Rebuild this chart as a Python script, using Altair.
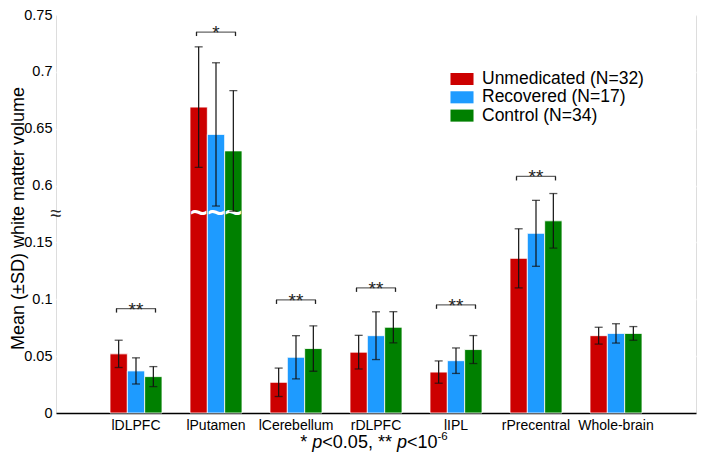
import altair as alt
import pandas as pd

# ---------------- data ----------------
regions = ["lDLPFC", "lPutamen", "lCerebellum", "rDLPFC", "lIPL", "rPrecentral", "Whole-brain"]
groups = ["Unmedicated (N=32)", "Recovered (N=17)", "Control (N=34)"]
colors = ["#CC0000", "#1E9BFF", "#008000"]

unmed_mean = [0.052, 0.669, 0.027, 0.0535, 0.036, 0.136, 0.068]
unmed_sd = [0.012, 0.053, 0.0125, 0.0148, 0.0098, 0.026, 0.0074]
recov_mean = [0.037, 0.645, 0.049, 0.068, 0.046, 0.158, 0.070]
recov_sd = [0.0115, 0.063, 0.019, 0.021, 0.0112, 0.029, 0.0085]
ctrl_mean = [0.032, 0.6305, 0.0567, 0.0754, 0.0558, 0.169, 0.070]
ctrl_sd = [0.0088, 0.053, 0.020, 0.0137, 0.0123, 0.024, 0.006]

sig_regions = ["lDLPFC", "lPutamen", "lCerebellum", "rDLPFC", "lIPL", "rPrecentral"]
sig_level = [0.0918, 0.735, 0.0994, 0.110, 0.0951, 0.208]
sig_text = ["**", "*", "**", "**", "**", "**"]

y_tick_labels = ["0", "0.05", "0.1", "0.15", "0.6", "0.65", "0.7", "0.75"]
break_region = "lPutamen"
break_pos = 3.5

# ---------------- tables ----------------
rows = []
for g, ms, ss in zip(groups, [unmed_mean, recov_mean, ctrl_mean], [unmed_sd, recov_sd, ctrl_sd]):
    for r, m, s in zip(regions, ms, ss):
        rows.append({"region": r, "group": g, "mean": m, "sd": s})
df = pd.DataFrame(rows)
sig_df = pd.DataFrame({"region": sig_regions, "level": sig_level, "label": sig_text})
wave_df = pd.DataFrame({"region": [break_region] * len(groups), "group": groups})


def brk(e):
    # broken axis: 0..0.15 below the break, 0.6..0.75 above it
    return f"(({e}) < 0.375 ? ({e}) / 0.05 : 4 + (({e}) - 0.6) / 0.05)"


FONT = "Liberation Sans"
W, H = 640, 398

label_expr = "[" + ",".join(f"'{s}'" for s in y_tick_labels) + "][round(datum.value)]"
yscale = alt.Scale(domain=[0, 7], nice=False, zero=True)
yaxis = alt.Axis(
    values=list(range(8)), labelExpr=label_expr,
    title="Mean (±SD) white matter volume", titleFontSize=18, titleFont=FONT,
    titleFontWeight="normal", titleColor="black", titleX=-38, titleY=203,
    titleAlign="center", titleBaseline="middle", titleAngle=270,
    labelFontSize=14.5, labelFont=FONT, labelColor="black", labelPadding=4,
    ticks=False, domain=False, gridColor="white", gridWidth=1.3, gridOpacity=1,
)


def X():
    return alt.X(
        "region:N", sort=regions,
        scale=alt.Scale(paddingInner=0.35, paddingOuter=0.675),
        axis=alt.Axis(title=None, labelAngle=0, ticks=False, grid=False,
                      domainColor="black", domainWidth=1.5,
                      labelFontSize=14, labelFont=FONT, labelColor="black",
                      labelPadding=5),
    )


def XO():
    return alt.XOffset("group:N", sort=groups, scale=alt.Scale(paddingInner=0, paddingOuter=0))


def Y(field):
    return alt.Y(field, type="quantitative", scale=yscale, axis=yaxis)


base = alt.Chart(df).transform_calculate(
    t=brk("datum.mean"),
    lo=brk("datum.mean - datum.sd"),
    hi=brk("datum.mean + datum.sd"),
)

bars = base.mark_bar(stroke="white", strokeWidth=0.8).encode(
    x=X(), xOffset=XO(), y=Y("t"),
    color=alt.Color(
        "group:N", sort=groups, scale=alt.Scale(domain=groups, range=colors),
        legend=alt.Legend(
            orient="none", legendX=397, legendY=55, title=None,
            symbolType="M-1.28,-0.67H1.28V0.67H-1.28Z", symbolSize=324,
            symbolStrokeWidth=0, symbolOpacity=1,
            labelFontSize=17.5, labelFont=FONT, labelColor="black",
            labelOffset=11, rowPadding=0.3, padding=0, labelLimit=400,
        ),
    ),
)

err = base.mark_rule(color="#111111", strokeWidth=1.2).encode(
    x=X(), xOffset=XO(), y=Y("lo"), y2="hi:Q")
cap_lo = base.mark_tick(color="#111111", size=8, thickness=1.3).encode(
    x=X(), xOffset=XO(), y=Y("lo"))
cap_hi = base.mark_tick(color="#111111", size=8, thickness=1.3).encode(
    x=X(), xOffset=XO(), y=Y("hi"))

wave = alt.Chart(wave_df).mark_text(
    text="~", color="white", fontSize=30, fontWeight="bold", baseline="middle", font=FONT
).encode(x=X(), xOffset=XO(), y=alt.datum(break_pos))

sig_base = alt.Chart(sig_df).transform_calculate(
    t=brk("datum.level"), tl=brk("datum.level") + " - 0.07"
)
br_h = sig_base.mark_tick(color="#222222", size=40, thickness=1.3).encode(x=X(), y=Y("t"))
br_l = sig_base.mark_rule(color="#222222", strokeWidth=1.3, xOffset=-19.5).encode(
    x=X(), y=Y("t"), y2="tl:Q")
br_r = sig_base.mark_rule(color="#222222", strokeWidth=1.3, xOffset=19.5).encode(
    x=X(), y=Y("t"), y2="tl:Q")
stars = sig_base.mark_text(fontSize=19, baseline="alphabetic", dy=7, color="#222222",
                           font=FONT).encode(x=X(), y=Y("t"), text="label:N")

axis_break = alt.Chart(wave_df.head(1)).mark_text(
    text="≈", fontSize=20, color="#222222", baseline="middle", font=FONT
).encode(x=alt.value(0), y=alt.datum(break_pos))

# footnote "* p<0.05, ** p<10^-6" built from pieces (italic p, superscript)
adv = {'*': 389, ' ': 278, 'p': 556, '<': 584, '0': 556, '.': 278, '5': 556,
       ',': 278, '1': 556, '-': 333, '6': 556}
pieces = [("* ", "normal", 18, 0), ("p", "italic", 18, 0),
          ("<0.05, ** ", "normal", 18, 0), ("p", "italic", 18, 0),
          ("<10", "normal", 18, 0), ("-6", "normal", 11.5, -8.5)]
widths = [sum(adv[c] for c in s) / 1000 * fs for s, _, fs, _ in pieces]
xpos = W / 2 - 2 - sum(widths) / 2
foot_layers = []
for (s, style, fs, rise), w in zip(pieces, widths):
    foot_layers.append(
        alt.Chart(wave_df.head(1)).mark_text(
            text=s, fontSize=fs, fontStyle=style, font=FONT, color="black",
            align="left", baseline="alphabetic",
        ).encode(x=alt.value(xpos), y=alt.value(H + 35 + rise))
    )
    xpos += w

chart = alt.layer(
    bars, wave, err, cap_lo, cap_hi, br_h, br_l, br_r, stars, axis_break, *foot_layers
).properties(
    width=W, height=H,
    autosize=alt.AutoSizeParams(type="none"),
    padding={"left": 48, "top": 7, "right": 2, "bottom": 40},
).configure_view(
    fill="#E6E6E6", strokeWidth=0
).configure(background="white")

chart.save("out.html", embed_options={"renderer": "svg", "actions": False})
